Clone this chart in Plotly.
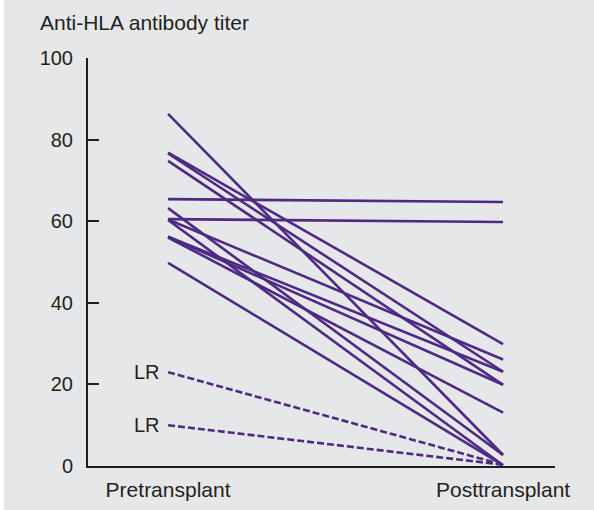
import plotly.graph_objects as go

# ---- data ----
categories = ["Pretransplant", "Posttransplant"]
pre_titer = [86.3, 76.8, 76.6, 74.8, 65.4, 63.2, 60.5, 60.4, 60.3, 56.2, 56.2, 56.0, 49.8]
post_titer = [2.7, 29.9, 23.1, 19.9, 64.7, 2.7, 59.8, 26.1, 0.2, 23.1, 19.9, 13.1, 0.2]
lr_pre = [23.0, 10.0]
lr_post = [0.3, 0.3]
lr_label = "LR"
y_title = "Anti-HLA antibody titer"
y_ticks = [0, 20, 40, 60, 80, 100]

PURPLE = "#4e2a84"
INK = "#231f20"
BG = "#e6e7e8"
FONT = "Liberation Sans, Arial, sans-serif"

fig = go.Figure()

for a, b in zip(pre_titer, post_titer):
    fig.add_trace(go.Scatter(
        x=categories, y=[a, b], mode="lines",
        line=dict(color=PURPLE, width=2.6),
        showlegend=False, hoverinfo="skip"))

for a, b in zip(lr_pre, lr_post):
    fig.add_trace(go.Scatter(
        x=categories, y=[a, b], mode="lines",
        line=dict(color=PURPLE, width=2.6, dash="7px,3px"),
        showlegend=False, hoverinfo="skip"))
    fig.add_annotation(x=categories[0], y=a, xref="x", yref="y",
                       text=lr_label, showarrow=False, xanchor="right",
                       yanchor="middle", xshift=-6,
                       font=dict(size=20, color=INK, family=FONT))

fig.add_annotation(x=(38 - 88) / 467, y=(466 - 22) / 408, xref="paper", yref="paper",
                   text=y_title, showarrow=False, xanchor="left", yanchor="middle",
                   font=dict(size=21, color=INK, family=FONT))

# white strip at the left edge
fig.add_shape(type="rect", xref="paper", yref="paper",
              x0=-88 / 467, x1=(4 - 88) / 467, y0=-44 / 408, y1=466 / 408,
              fillcolor="white", line=dict(width=0), layer="above")

fig.update_layout(
    width=594, height=510,
    margin=dict(l=88, r=39, t=58, b=44, autoexpand=False),
    paper_bgcolor=BG, plot_bgcolor=BG,
    font=dict(family=FONT, size=20, color=INK),
    showlegend=False,
)
fig.update_xaxes(
    type="category", range=[-0.239, 1.155], automargin=False,
    showline=True, linecolor=INK, linewidth=2,
    showgrid=False, zeroline=False, ticks="",
    tickfont=dict(size=21, color=INK, family=FONT),
    ticklabelstandoff=4,
)
fig.update_yaxes(
    range=[0, 100], tickvals=y_ticks, automargin=False,
    showline=True, linecolor=INK, linewidth=2,
    showgrid=False, zeroline=False,
    ticks="inside", ticklen=11, tickwidth=2, tickcolor=INK,
    tickfont=dict(size=20, color=INK, family=FONT),
    ticklabelstandoff=9,
)

fig.write_html(
    "out.html",
    config={"displayModeBar": False},
    post_script=(
        "document.documentElement.style.background='" + BG + "';"
        "document.body.style.background='" + BG + "';"
        "document.body.style.margin='0';document.body.style.overflow='hidden';"
    ),
)
